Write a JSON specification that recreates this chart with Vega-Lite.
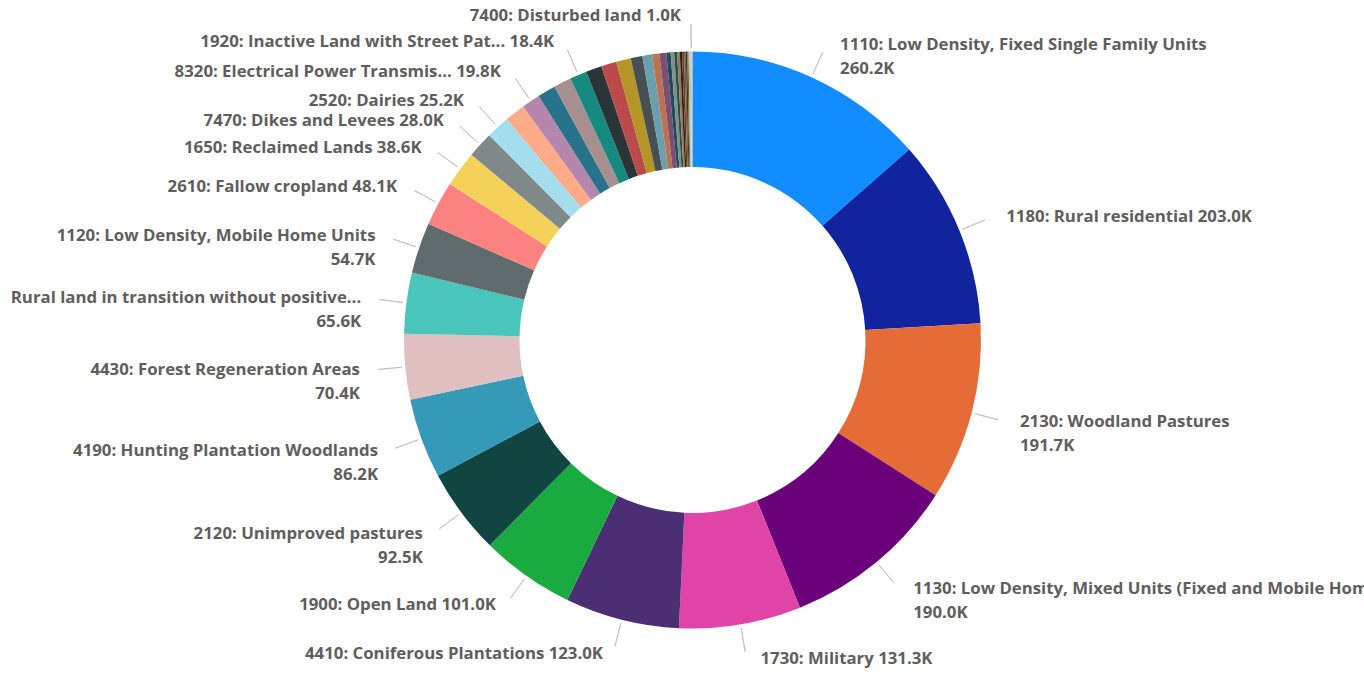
{
  "$schema": "https://vega.github.io/schema/vega-lite/v6.json",
  "width": 1343,
  "height": 668,
  "autosize": "none",
  "padding": {"left": 21, "top": 6, "right": 0, "bottom": 0},
  "background": "white",
  "config": {"view": {"stroke": null}},
  "params": [
    {"name": "labeled", "value": [
      "1110: Low Density, Fixed Single Family Units",
      "1180: Rural residential",
      "2130: Woodland Pastures",
      "1130: Low Density, Mixed Units (Fixed and Mobile Home)",
      "1730: Military",
      "4410: Coniferous Plantations",
      "1900: Open Land",
      "2120: Unimproved pastures",
      "4190: Hunting Plantation Woodlands",
      "4430: Forest Regeneration Areas",
      "Rural land in transition without positive...",
      "1120: Low Density, Mobile Home Units",
      "2610: Fallow cropland",
      "1650: Reclaimed Lands",
      "7470: Dikes and Levees",
      "2520: Dairies",
      "8320: Electrical Power Transmis...",
      "1920: Inactive Land with Street Pat...",
      "7400: Disturbed land"
    ]},
    {"name": "wrapped", "value": [
      "1110: Low Density, Fixed Single Family Units",
      "2130: Woodland Pastures",
      "1130: Low Density, Mixed Units (Fixed and Mobile Home)",
      "2120: Unimproved pastures",
      "4190: Hunting Plantation Woodlands",
      "4430: Forest Regeneration Areas",
      "Rural land in transition without positive...",
      "1120: Low Density, Mobile Home Units"
    ]}
  ],
  "data": {"values": [
    {"name": "1110: Low Density, Fixed Single Family Units", "value": 260200},
    {"name": "1180: Rural residential", "value": 203000},
    {"name": "2130: Woodland Pastures", "value": 191700},
    {"name": "1130: Low Density, Mixed Units (Fixed and Mobile Home)", "value": 190000},
    {"name": "1730: Military", "value": 131300},
    {"name": "4410: Coniferous Plantations", "value": 123000},
    {"name": "1900: Open Land", "value": 101000},
    {"name": "2120: Unimproved pastures", "value": 92500},
    {"name": "4190: Hunting Plantation Woodlands", "value": 86200},
    {"name": "4430: Forest Regeneration Areas", "value": 70400},
    {"name": "Rural land in transition without positive...", "value": 65600},
    {"name": "1120: Low Density, Mobile Home Units", "value": 54700},
    {"name": "2610: Fallow cropland", "value": 48100},
    {"name": "1650: Reclaimed Lands", "value": 38600},
    {"name": "7470: Dikes and Levees", "value": 28000},
    {"name": "2520: Dairies", "value": 25200},
    {"name": "Other A", "value": 22000},
    {"name": "8320: Electrical Power Transmis...", "value": 19800},
    {"name": "Other B", "value": 19500},
    {"name": "Other C", "value": 19000},
    {"name": "1920: Inactive Land with Street Pat...", "value": 18400},
    {"name": "Other D", "value": 17000},
    {"name": "Other E", "value": 16500},
    {"name": "Other F", "value": 15800},
    {"name": "Other G", "value": 12600},
    {"name": "Other H", "value": 10400},
    {"name": "Other I", "value": 7800},
    {"name": "Other J", "value": 7500},
    {"name": "Other K", "value": 4500},
    {"name": "Other L", "value": 3800},
    {"name": "Other M", "value": 3200},
    {"name": "Other N", "value": 2800},
    {"name": "Other O", "value": 2400},
    {"name": "Other P", "value": 2100},
    {"name": "Other Q", "value": 1800},
    {"name": "Other R", "value": 1600},
    {"name": "Other S", "value": 1400},
    {"name": "Other T", "value": 1200},
    {"name": "Other U", "value": 1100},
    {"name": "7400: Disturbed land", "value": 1000},
    {"name": "Other V", "value": 600},
    {"name": "Other W", "value": 300}
  ]},
  "transform": [
    {"window": [{"op": "sum", "field": "value", "as": "cum"}], "sort": [{"field": "value", "order": "descending"}], "frame": [null, 0]},
    {"joinaggregate": [{"op": "sum", "field": "value", "as": "total"}]}
  ],
  "encoding": {
    "theta": {"field": "value", "type": "quantitative", "stack": true},
    "order": {"field": "value", "type": "quantitative", "sort": "descending"}
  },
  "layer": [
    {
      "mark": {"type": "arc", "innerRadius": 173, "outerRadius": 288.5},
      "encoding": {
        "color": {
          "field": "name", "type": "nominal", "legend": null,
          "scale": {
            "domain": [
              "1110: Low Density, Fixed Single Family Units", "1180: Rural residential", "2130: Woodland Pastures",
              "1130: Low Density, Mixed Units (Fixed and Mobile Home)", "1730: Military", "4410: Coniferous Plantations",
              "1900: Open Land", "2120: Unimproved pastures", "4190: Hunting Plantation Woodlands",
              "4430: Forest Regeneration Areas", "Rural land in transition without positive...", "1120: Low Density, Mobile Home Units",
              "2610: Fallow cropland", "1650: Reclaimed Lands", "7470: Dikes and Levees", "2520: Dairies", "Other A",
              "8320: Electrical Power Transmis...", "Other B", "Other C", "1920: Inactive Land with Street Pat...",
              "Other D", "Other E", "Other F", "Other G", "Other H", "Other I", "Other J", "Other K", "Other L",
              "Other M", "Other N", "Other O", "Other P", "Other Q", "Other R", "Other S", "Other T", "Other U",
              "7400: Disturbed land", "Other V", "Other W"
            ],
            "range": [
              "#118DFF", "#12239E", "#E66C37", "#6B007B", "#E044A7", "#4C2E75",
              "#1AAB40", "#114541", "#3599B8", "#DFBFBF", "#4AC5BB", "#5F6B6D",
              "#FB8281", "#F4D25A", "#7F898A", "#A4DDEE", "#FDAB89",
              "#B687AC", "#28738A", "#A78F8F", "#168980",
              "#293537", "#BB4A4A", "#B59525", "#475052", "#6A9FB0", "#BD7150", "#7B4F71", "#1B4D5C", "#8A8A8A",
              "#0F5C55", "#B07040", "#1C2325", "#7D3231", "#796419", "#303637", "#476A75", "#C9B870", "#BDBDBD",
              "#E8D9A0", "#9C9C9C", "#D8D0B0"
            ]
          }
        }
      }
    },
    {
      "mark": {"type": "arc", "innerRadius": 292, "outerRadius": 316, "padAngle": 3.1, "fill": "transparent", "stroke": "#C4C4C4", "strokeWidth": 1},
      "encoding": {
        "detail": {"field": "name"},
        "strokeOpacity": {"condition": {"test": "indexof(labeled, datum.name) >= 0", "value": 1}, "value": 0}
      }
    },
    {
      "mark": {
        "type": "text", "radius": 324, "align": "left", "baseline": "middle", "dx": 14,
        "font": "Open Sans", "fontSize": 16.8, "fontWeight": "bold", "fill": "#605E5C", "lineHeight": 24,
        "text": {"expr": "(indexof(labeled, datum.name) >= 0 && 2*datum.cum - datum.value < datum.total) ? (indexof(wrapped, datum.name) >= 0 ? [datum.name, format(datum.value/1000, '.1f') + 'K'] : datum.name + ' ' + format(datum.value/1000, '.1f') + 'K') : ''"}
      },
      "encoding": {"detail": {"field": "name"}}
    },
    {
      "mark": {
        "type": "text", "radius": 324, "align": "right", "baseline": "middle", "dx": -10,
        "font": "Open Sans", "fontSize": 16.8, "fontWeight": "bold", "fill": "#605E5C", "lineHeight": 24,
        "text": {"expr": "(indexof(labeled, datum.name) >= 0 && 2*datum.cum - datum.value >= datum.total) ? (indexof(wrapped, datum.name) >= 0 ? [datum.name, format(datum.value/1000, '.1f') + 'K'] : datum.name + ' ' + format(datum.value/1000, '.1f') + 'K') : ''"}
      },
      "encoding": {"detail": {"field": "name"}}
    }
  ]
}
